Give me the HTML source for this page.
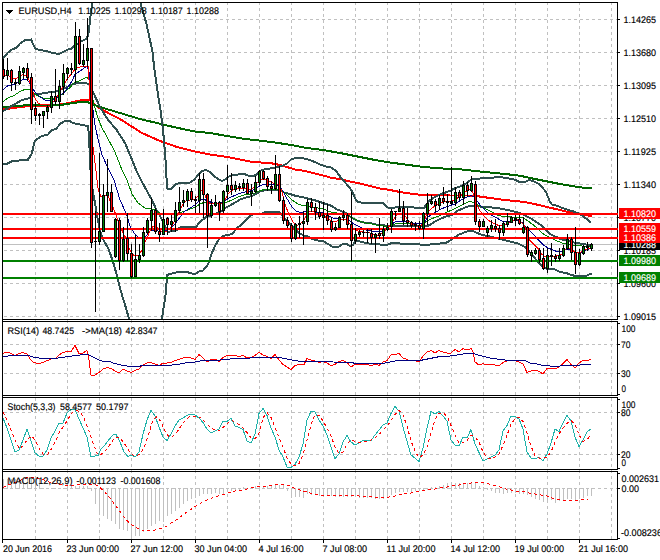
<!DOCTYPE html>
<html><head><meta charset="utf-8"><title>EURUSD,H4</title>
<style>html,body{margin:0;padding:0;background:#fff}body{width:660px;height:560px;overflow:hidden}svg{display:block}</style></head>
<body>
<svg width="660" height="560" viewBox="0 0 660 560" shape-rendering="crispEdges" font-family="'Liberation Sans', sans-serif" font-size="9.5" text-rendering="geometricPrecision">
<rect x="0" y="0" width="660" height="560" fill="#fff"/>
<g stroke="#c0c0c0" stroke-width="1" stroke-dasharray="3 3" fill="none">
<path d="M35.5 2V539"/>
<path d="M67.5 2V539"/>
<path d="M99.5 2V539"/>
<path d="M131.5 2V539"/>
<path d="M163.5 2V539"/>
<path d="M195.5 2V539"/>
<path d="M227.5 2V539"/>
<path d="M259.5 2V539"/>
<path d="M291.5 2V539"/>
<path d="M323.5 2V539"/>
<path d="M355.5 2V539"/>
<path d="M387.5 2V539"/>
<path d="M419.5 2V539"/>
<path d="M451.5 2V539"/>
<path d="M483.5 2V539"/>
<path d="M515.5 2V539"/>
<path d="M547.5 2V539"/>
<path d="M579.5 2V539"/>
<path d="M611.5 2V539"/>
<path d="M4 19.5H617"/>
<path d="M4 52.5H617"/>
<path d="M4 85.5H617"/>
<path d="M4 118.5H617"/>
<path d="M4 151.5H617"/>
<path d="M4 184.5H617"/>
<path d="M4 217.5H617"/>
<path d="M4 250.5H617"/>
<path d="M4 283.5H617"/>
<path d="M4 316.5H617"/>
<path d="M4 344.5H617"/>
<path d="M4 373.5H617"/>
<path d="M4 412.5H617"/>
<path d="M4 454.5H617"/>
<path d="M4 488.5H617"/>
</g>
<defs><clipPath id="cm"><rect x="3" y="3" width="614" height="316"/></clipPath></defs>
<g clip-path="url(#cm)">
<rect x="3" y="244" width="614" height="1" fill="#c0c0c0"/>
<polyline points="3.0,109.5 10.0,108.5 20.0,107.0 30.0,106.0 48.0,106.0 64.0,104.0 80.0,100.5 84.0,100.0 90.0,99.5 94.0,104.0 100.0,108.5 110.0,114.0 120.0,119.0 123.0,121.0 131.0,126.0 142.0,133.0 160.0,141.0 163.0,142.0 177.0,147.0 195.0,151.5 210.0,154.5 227.0,157.0 240.0,159.5 252.0,162.0 270.0,163.0 280.0,165.0 287.0,167.0 295.0,169.5 305.0,171.0 315.0,173.5 325.0,176.0 332.0,178.0 340.0,179.0 350.0,181.5 360.0,183.5 370.0,186.0 380.0,188.5 390.0,190.0 400.0,192.0 410.0,193.5 420.0,194.7 435.0,195.2 450.0,195.5 470.0,195.5 476.0,196.0 490.0,198.0 505.0,200.0 520.0,201.5 530.0,203.0 545.0,206.5 560.0,210.0 570.0,212.5 580.0,214.5 592.0,216.0" fill="none" stroke="#ff0000" stroke-width="2" />
<polyline points="3.0,107.0 30.0,105.0 60.0,105.0 67.0,104.0 80.0,102.0 86.0,101.5 92.0,104.0 100.0,107.0 120.0,113.0 140.0,119.0 163.0,124.5 178.0,128.0 195.0,131.5 210.0,133.0 227.0,136.0 245.0,139.0 259.0,140.5 275.0,142.5 291.0,145.0 307.0,148.0 323.0,150.0 340.0,153.0 345.0,154.0 360.0,157.0 375.0,160.0 390.0,162.5 405.0,164.5 420.0,166.5 435.0,168.0 450.0,169.0 460.0,169.3 475.0,171.0 490.0,172.5 505.0,174.0 520.0,175.7 530.0,178.0 545.0,181.0 560.0,184.0 575.0,186.5 585.0,188.0 592.0,188.5" fill="none" stroke="#006400" stroke-width="2" />
<polyline points="3.0,58.5 8.0,52.5 12.0,49.5 16.0,48.0 20.0,43.5 25.0,40.0 31.0,39.5 33.0,44.0 35.5,49.0 40.0,50.0 46.0,51.0 51.0,52.5 56.0,53.5 60.0,53.5 64.0,51.5 68.0,49.5 71.0,49.0 73.0,47.0 75.0,45.5 80.0,42.0 86.0,39.0 88.0,36.0 89.0,30.0 90.0,20.0 91.0,12.0 92.0,5.0 92.5,2.0" fill="none" stroke="#2f4f4f" stroke-width="2" />
<polyline points="140.0,2.0 140.5,3.0 143.0,12.0 146.0,22.0 150.0,40.0 152.5,52.0 154.0,66.0 156.0,80.0 158.0,95.0 160.5,110.0 162.5,126.0 164.0,140.0 165.5,160.0 166.5,178.0 167.5,189.0 171.0,189.0 176.0,184.0 180.0,183.0 189.0,183.0 194.0,180.0 198.0,175.0 202.0,171.0 206.0,170.0 210.0,172.0 214.0,176.0 218.0,179.0 222.0,181.0 226.0,179.0 228.0,177.0 232.0,175.5 238.0,174.5 244.0,174.0 248.0,175.5 254.0,176.0 257.0,174.0 260.0,171.0 264.0,169.5 270.0,168.5 278.0,167.0 283.0,165.5 287.0,163.5 291.0,159.5 296.0,158.0 301.0,157.5 306.0,159.0 311.0,160.5 316.0,162.5 321.0,165.0 326.0,166.5 331.0,167.5 335.0,170.0 338.0,173.5 341.0,178.0 346.0,183.5 350.0,188.0 353.0,193.0 355.0,198.5 358.0,202.0 364.0,203.0 383.0,203.0 385.0,205.0 388.0,207.5 395.0,207.5 399.0,206.5 408.0,206.5 414.0,207.5 424.0,208.0 426.0,205.0 430.0,200.0 435.0,197.0 441.0,194.0 447.0,192.0 452.0,190.0 455.0,188.0 459.0,187.0 463.0,185.0 467.0,183.0 470.0,180.5 472.0,178.5 480.0,178.5 487.0,178.0 494.0,177.5 500.0,177.0 506.0,178.0 512.0,179.0 516.0,180.0 519.0,182.0 525.0,182.0 529.0,180.0 533.0,181.0 538.0,183.5 542.0,187.0 546.0,192.0 548.0,197.0 550.0,202.0 552.0,204.5 556.0,205.5 560.0,207.0 565.0,209.0 570.0,210.5 575.0,212.0 580.0,214.0 584.0,217.0 588.0,220.0 591.0,223.0" fill="none" stroke="#2f4f4f" stroke-width="2" />
<polyline points="3.0,111.0 10.0,107.0 16.0,103.5 22.0,100.0 28.0,98.5 31.0,98.0 35.0,94.5 45.0,93.0 55.0,91.5 60.0,90.0 64.0,88.5 68.0,86.5 72.0,84.5 76.0,83.5 85.0,82.5 90.0,85.0 93.0,92.0 100.0,107.0 108.0,120.0 116.0,129.0 125.0,143.0 130.0,155.0 137.0,172.0 141.0,180.0 148.0,193.0 152.0,200.0 156.0,209.0 160.0,216.0 163.0,222.0 166.0,228.0 168.0,232.0 172.0,231.0 177.0,230.0 180.0,227.5 196.0,227.0 200.0,222.0 206.0,217.0 212.0,215.0 222.0,211.0 226.0,207.5 230.0,205.5 236.0,202.0 241.0,199.0 246.0,197.5 252.0,196.0 256.0,194.0 260.0,191.5 266.0,190.0 274.0,189.5 280.0,190.5 284.0,192.5 290.0,194.0 296.0,196.0 302.0,197.0 308.0,198.5 314.0,200.0 320.0,202.0 326.0,204.0 332.0,206.0 336.0,209.0 341.0,211.0 346.0,213.0 350.0,216.5 354.0,219.0 358.0,221.0 364.0,222.5 372.0,223.5 378.0,225.0 383.0,224.5 386.0,226.0 390.0,226.5 396.0,226.0 410.0,226.0 420.0,226.5 428.0,226.0 432.0,223.5 436.0,221.0 440.0,219.0 446.0,216.5 452.0,215.0 458.0,210.5 464.0,208.0 469.0,206.0 472.0,205.5 476.0,206.0 484.0,207.0 492.0,207.5 500.0,208.5 508.0,210.0 514.0,211.5 518.0,212.5 522.0,214.0 526.0,216.0 530.0,218.0 534.0,220.5 538.0,223.0 542.0,226.0 546.0,230.5 550.0,234.0 555.0,236.5 562.0,239.5 568.0,241.0 574.0,242.5 580.0,243.5 586.0,244.5 592.0,245.0" fill="none" stroke="#2f4f4f" stroke-width="2" />
<polyline points="3.0,164.0 7.0,164.0 10.0,162.0 13.0,161.0 19.0,160.5 21.0,159.5 28.0,159.5 30.0,156.5 32.0,153.0 33.0,148.0 34.5,142.0 37.0,139.0 42.0,136.0 48.0,134.5 52.0,130.0 56.0,129.0 60.0,124.0 64.0,121.5 69.0,120.5 73.0,123.0 80.0,124.5 88.0,126.0 89.0,135.0 90.0,160.0 91.0,180.0 97.0,215.0 100.0,231.0 104.0,241.0 108.0,248.0 110.0,253.0 114.0,265.0 117.0,276.0 120.0,288.0 122.0,295.0 126.0,308.0 129.0,319.0" fill="none" stroke="#2f4f4f" stroke-width="2" />
<polyline points="162.0,319.0 164.0,305.0 166.0,292.0 166.5,283.0 167.0,275.0 170.0,274.0 176.0,272.5 185.0,271.5 192.0,273.5 196.0,273.5 200.0,271.0 203.0,270.5 207.0,266.0 209.0,262.0 211.0,255.0 215.0,246.0 219.0,239.0 223.0,236.0 230.0,234.5 232.0,234.0 237.0,228.0 241.0,225.0 246.0,220.0 250.0,216.0 253.0,214.5 262.0,214.0 264.0,212.5 275.0,211.5 280.0,212.5 283.0,216.0 286.0,220.0 290.0,224.0 296.0,230.0 300.0,233.5 305.0,236.0 308.0,236.5 312.0,239.0 318.0,240.5 324.0,241.5 328.0,244.0 332.0,246.5 335.0,247.0 339.0,246.5 343.0,244.0 346.0,243.5 350.0,246.0 353.0,245.0 355.0,241.5 358.0,241.0 362.0,242.0 366.0,243.0 372.0,244.0 380.0,244.5 388.0,244.5 392.0,243.0 394.0,242.5 400.0,243.5 410.0,244.0 420.0,244.5 430.0,244.5 440.0,243.5 446.0,243.0 450.0,240.5 453.0,238.5 458.0,235.0 463.0,233.0 467.0,231.5 470.0,230.5 473.0,231.0 477.0,233.0 481.0,234.5 485.0,235.5 490.0,236.5 498.0,238.5 502.0,239.5 508.0,241.0 514.0,242.5 518.0,243.5 522.0,245.5 524.0,246.5 528.0,250.0 532.0,255.0 536.0,259.5 540.0,264.0 544.0,268.0 548.0,269.0 552.0,268.5 556.0,270.0 560.0,272.0 566.0,273.0 570.0,274.5 575.0,276.0 580.0,276.5 586.0,276.0 589.0,274.5 592.0,273.5" fill="none" stroke="#2f4f4f" stroke-width="2" />
<polyline points="3.0,101.5 8.0,98.0 14.0,95.5 20.0,91.5 26.0,89.0 30.0,90.0 34.0,93.5 38.0,96.0 44.0,98.5 50.0,99.0 56.0,98.0 62.0,94.5 66.0,91.0 70.0,87.5 74.0,83.0 80.0,80.5 87.0,77.0 89.0,80.0 94.0,105.0 98.0,118.0 102.0,128.0 106.0,135.0 115.0,152.0 122.0,170.0 127.0,180.0 132.0,194.0 138.0,203.0 145.0,208.0 152.0,209.0 157.0,211.0 160.0,213.5 170.0,215.0 175.0,214.0 180.0,212.5 185.0,211.0 190.0,209.0 196.0,207.0 200.0,204.0 205.0,202.0 212.0,203.0 220.0,203.0 226.0,202.5 232.0,200.0 238.0,197.0 244.0,195.0 252.0,194.0 256.0,192.5 260.0,190.5 265.0,189.5 272.0,189.0 278.0,189.5 282.0,191.0 286.0,194.0 290.0,198.0 294.0,201.5 298.0,204.0 302.0,205.5 306.0,206.0 312.0,207.0 318.0,208.0 324.0,209.0 328.0,211.0 333.0,212.5 340.0,213.5 350.0,216.0 354.0,218.5 360.0,221.5 366.0,223.0 372.0,224.0 378.0,225.5 384.0,226.0 390.0,226.0 395.0,224.0 400.0,223.0 410.0,223.0 420.0,224.0 426.0,222.0 430.0,219.5 436.0,217.0 440.0,215.5 446.0,212.5 452.0,210.0 458.0,207.0 464.0,204.0 468.0,202.0 471.0,201.5 475.0,203.0 478.0,205.0 483.0,207.5 488.0,210.0 492.0,212.0 498.0,215.5 504.0,216.5 512.0,217.0 520.0,217.0 524.0,218.5 528.0,221.0 532.0,224.0 536.0,227.0 540.0,231.0 544.0,234.5 548.0,236.5 556.0,240.5 562.0,243.0 568.0,244.0 575.0,245.5 582.0,246.0 592.0,246.0" fill="none" stroke="#008000" stroke-width="1" />
<polyline points="3.0,90.0 8.0,85.5 14.0,84.5 20.0,80.5 26.0,79.0 29.0,82.0 32.0,88.0 36.0,93.0 40.0,97.0 45.0,100.0 50.0,100.0 55.0,99.5 60.0,96.0 64.0,92.5 68.0,87.0 72.0,81.0 75.0,74.5 80.0,71.0 87.0,66.0 89.0,72.0 91.0,95.0 94.0,118.0 95.5,128.0 99.0,143.0 102.0,155.0 108.0,168.0 114.0,180.0 120.0,200.0 126.0,213.0 130.0,226.0 134.0,233.0 138.0,237.0 142.0,238.0 146.0,236.0 150.0,231.0 155.0,230.0 160.0,231.5 165.0,231.0 170.0,229.0 175.0,224.0 180.0,217.0 185.0,211.0 190.0,208.0 195.0,205.0 199.0,201.0 203.0,199.0 208.0,201.0 213.0,203.0 220.0,203.0 225.0,200.5 230.0,197.5 236.0,195.0 242.0,192.5 250.0,191.0 254.0,189.5 258.0,187.0 262.0,185.0 268.0,184.5 276.0,185.0 280.0,187.0 283.0,191.0 286.0,197.0 289.0,202.0 292.0,207.0 296.0,211.0 300.0,212.5 309.0,211.5 316.0,212.0 322.0,212.5 326.0,214.5 330.0,216.5 334.0,218.5 340.0,219.0 346.0,219.0 350.0,221.0 354.0,224.0 358.0,226.0 362.0,228.0 366.0,230.0 372.0,231.0 378.0,232.0 382.0,231.5 386.0,229.0 390.0,226.0 394.0,222.5 397.0,221.0 406.0,221.0 410.0,222.0 415.0,223.5 420.0,224.0 425.0,222.0 428.0,217.0 432.0,214.5 436.0,212.0 441.0,209.0 446.0,207.0 452.0,205.0 454.0,204.5 458.0,202.0 463.0,199.0 467.0,197.0 471.0,195.5 474.0,197.0 477.0,201.0 481.0,206.0 485.0,210.0 488.0,213.0 492.0,215.5 496.0,217.5 500.0,220.0 504.0,222.0 506.0,221.5 510.0,221.0 516.0,220.0 520.0,221.0 523.0,223.5 526.0,227.0 530.0,231.0 534.0,235.0 540.0,241.5 544.0,245.5 548.0,248.0 553.0,250.0 558.0,252.0 562.0,251.5 565.0,249.0 570.0,249.5 574.0,252.0 578.0,252.5 582.0,252.0 586.0,250.0 592.0,248.0" fill="none" stroke="#00008b" stroke-width="1" />
<polyline points="3.0,75.0 8.0,75.0 12.0,78.5 15.0,79.0 19.0,77.0 23.0,74.5 27.0,76.5 29.0,80.0 31.0,86.0 33.0,92.0 35.0,98.0 38.0,103.0 42.0,105.0 50.0,104.0 55.0,100.0 60.0,92.0 64.0,84.0 68.0,78.0 72.0,73.0 76.0,68.0 82.0,66.5 88.0,66.0 89.0,80.0 90.0,100.0 93.0,147.0 95.0,163.0 98.0,188.0 99.0,192.0 101.0,197.0 103.0,195.5 108.0,196.0 112.0,205.0 116.0,215.0 120.0,226.0 124.0,235.0 128.0,241.0 129.0,248.0 132.0,254.0 135.0,256.0 139.0,255.0 142.0,250.0 145.0,242.0 148.0,236.0 151.0,228.0 154.0,226.0 158.0,228.0 163.0,233.0 167.0,231.0 172.0,226.0 176.0,218.0 179.0,212.0 183.0,204.0 186.0,201.0 190.0,200.0 195.0,199.0 198.0,196.0 201.0,190.0 204.0,193.0 207.0,200.0 210.0,204.0 216.0,203.0 222.0,204.0 225.0,200.0 228.0,194.0 231.0,191.0 235.0,189.0 240.0,188.0 246.0,189.0 250.0,190.0 253.0,188.0 257.0,183.0 261.0,180.0 265.0,179.0 269.0,181.0 273.0,183.0 277.0,184.0 280.0,186.0 282.0,192.0 284.0,200.0 286.0,207.0 288.0,212.0 290.0,216.0 293.0,222.0 296.0,226.0 300.0,224.0 304.0,220.0 306.0,216.0 310.0,211.0 314.0,212.0 318.0,215.0 324.0,216.0 328.0,218.5 332.0,221.5 335.0,222.0 338.0,220.5 342.0,219.5 346.0,220.0 350.0,224.0 354.0,229.0 358.0,231.0 364.0,232.0 370.0,233.0 376.0,235.0 380.0,235.0 385.0,231.0 388.0,228.0 391.0,224.0 394.0,219.0 397.0,215.0 400.0,213.0 404.0,214.0 407.0,219.0 411.0,223.0 415.0,225.0 419.0,227.0 423.0,224.0 426.0,216.0 429.0,211.0 432.0,208.0 436.0,205.5 440.0,203.0 444.0,202.0 450.0,201.5 455.0,200.0 460.0,196.0 465.0,192.0 468.0,190.0 471.0,189.0 473.0,193.0 475.0,199.0 477.0,205.0 480.0,211.0 484.0,216.0 487.0,219.0 490.0,221.5 494.0,223.5 500.0,226.0 505.0,225.0 508.0,223.0 511.0,221.5 515.0,219.5 519.0,220.0 523.0,224.0 525.0,227.0 527.0,232.0 530.0,240.5 533.0,243.5 536.0,246.5 539.0,249.5 542.0,254.5 545.0,256.5 550.0,256.0 555.0,256.0 560.0,255.5 563.0,253.0 566.0,249.0 569.0,248.5 572.0,250.0 576.0,253.0 580.0,252.5 584.0,250.5 588.0,248.5 592.0,247.5" fill="none" stroke="#ff0000" stroke-width="1" />
</g>
<polyline points="3.0,353.5 6.0,352.0 10.0,353.0 15.0,355.5 19.0,353.5 23.0,352.5 27.0,354.0 30.0,359.0 33.0,362.0 37.0,363.5 41.0,363.0 45.0,361.5 49.0,360.0 52.0,358.5 55.0,359.0 58.0,356.0 62.0,353.0 66.0,351.5 71.0,351.5 75.0,345.5 79.0,353.5 83.0,353.0 87.0,350.5 89.0,360.0 91.0,375.0 95.0,375.0 99.0,372.5 103.0,369.0 107.0,367.5 111.0,368.5 115.0,371.0 119.0,373.0 123.0,369.0 127.0,371.0 131.0,372.5 135.0,370.5 139.0,369.0 143.0,365.0 147.0,363.0 151.0,362.5 155.0,364.0 159.0,365.5 163.0,363.0 167.0,363.0 171.0,362.5 175.0,360.5 179.0,359.5 183.0,358.0 187.0,357.0 191.0,358.0 195.0,359.5 199.0,354.5 203.0,358.0 207.0,362.0 211.0,359.5 216.0,359.5 219.0,361.5 223.0,357.5 227.0,355.5 231.0,356.0 235.0,355.5 239.0,356.5 243.0,355.5 247.0,358.0 251.0,357.5 255.0,355.5 259.0,352.5 263.0,355.0 267.0,356.5 271.0,358.5 275.0,354.5 279.0,360.0 283.0,364.5 287.0,367.0 291.0,369.5 295.0,365.5 299.0,364.5 304.0,364.5 307.0,358.5 311.0,360.0 315.0,361.0 319.0,362.5 323.0,361.5 327.0,363.0 331.0,365.5 335.0,364.5 339.0,361.5 343.0,360.5 347.0,362.5 351.0,367.0 355.0,364.5 359.0,364.0 367.0,364.0 371.0,366.0 375.0,364.0 379.0,365.5 383.0,362.0 387.0,360.5 391.0,355.0 395.0,354.5 399.0,353.5 403.0,358.0 407.0,359.5 411.0,361.0 415.0,360.5 419.0,362.0 423.0,356.0 427.0,352.0 431.0,350.5 435.0,353.0 439.0,350.5 443.0,352.0 447.0,353.0 451.0,353.0 455.0,349.5 459.0,352.0 463.0,348.5 467.0,350.0 471.0,348.5 473.0,352.0 475.0,362.0 479.0,365.0 483.0,363.5 487.0,365.0 491.0,364.5 495.0,365.0 499.0,366.0 503.0,362.5 507.0,361.0 511.0,360.5 515.0,360.5 519.0,362.0 523.0,364.0 527.0,372.5 531.0,371.0 535.0,370.0 539.0,371.5 543.0,374.0 547.0,368.5 551.0,368.0 555.0,369.0 559.0,367.0 563.0,363.5 567.0,359.5 571.0,364.5 575.0,368.0 579.0,363.0 583.0,360.5 587.0,361.0 591.0,359.0" fill="none" stroke="#ff0000" stroke-width="1" />
<polyline points="3.0,357.0 8.0,356.0 20.0,355.5 28.0,355.5 33.0,357.0 42.0,358.5 50.0,358.5 58.0,358.0 65.0,357.0 72.0,356.0 80.0,355.0 88.0,354.5 94.0,357.5 99.0,360.0 103.0,361.5 110.0,361.5 113.0,363.0 121.0,365.0 130.0,366.5 138.0,366.5 143.0,365.5 160.0,365.5 172.0,365.0 180.0,364.0 187.0,362.5 195.0,362.0 203.0,360.5 210.0,360.0 220.0,360.0 230.0,359.0 240.0,358.0 250.0,358.0 258.0,357.0 270.0,357.0 280.0,357.5 287.0,359.0 292.0,360.0 298.0,361.0 310.0,361.0 320.0,361.5 328.0,361.5 333.0,362.0 352.0,362.5 355.0,363.5 375.0,363.5 385.0,363.0 390.0,362.0 398.0,360.5 420.0,360.5 430.0,358.5 440.0,356.5 450.0,356.0 460.0,354.5 467.0,353.5 473.0,353.5 480.0,355.5 490.0,358.0 500.0,359.5 510.0,360.5 525.0,360.5 530.0,363.0 537.0,364.0 543.0,365.5 550.0,366.0 560.0,366.0 568.0,365.0 580.0,365.0 586.0,364.5 591.0,364.5" fill="none" stroke="#000080" stroke-width="1" />
<polyline points="3.0,418.0 7.0,428.0 11.0,440.0 15.0,452.0 19.0,450.0 23.0,440.0 27.0,429.0 31.0,441.0 35.0,453.0 39.0,456.0 43.0,456.0 47.0,450.0 51.0,438.0 55.0,431.0 59.0,423.5 63.0,423.0 67.0,413.0 71.0,409.5 75.0,409.5 79.0,419.0 83.0,428.0 87.0,437.0 91.0,457.0 95.0,456.0 98.0,455.5 101.0,449.0 105.0,445.0 109.0,439.5 113.0,435.0 116.0,434.5 120.0,442.0 124.0,452.0 128.0,456.5 131.0,455.0 135.0,457.0 139.0,452.0 143.0,434.0 147.0,420.0 151.0,410.5 155.0,416.0 159.0,427.0 163.0,437.0 167.0,440.5 171.0,434.0 175.0,426.0 179.0,420.0 183.0,418.0 187.0,415.5 191.0,414.0 195.0,415.0 199.0,418.0 203.0,422.5 207.0,429.0 211.0,433.0 215.0,431.0 219.0,429.0 223.0,421.5 227.0,421.5 231.0,418.5 235.0,426.0 239.0,427.5 243.0,429.5 247.0,441.0 251.0,443.0 255.0,434.0 259.0,413.5 263.0,408.5 267.0,415.5 271.0,428.0 275.0,437.0 279.0,450.0 283.0,457.0 287.0,467.0 291.0,467.5 295.0,464.5 299.0,457.0 303.0,444.0 307.0,420.0 311.0,411.5 315.0,412.0 319.0,420.0 323.0,426.0 327.0,435.0 331.0,447.0 335.0,458.5 339.0,454.0 343.0,442.0 347.0,435.5 351.0,442.0 355.0,445.0 359.0,443.0 363.0,440.5 367.0,440.0 371.0,440.5 375.0,435.0 379.0,430.0 383.0,425.0 387.0,423.0 391.0,413.5 395.0,406.5 399.0,411.0 403.0,427.0 407.0,441.0 411.0,455.0 415.0,458.0 419.0,461.5 423.0,448.0 427.0,428.0 431.0,411.5 435.0,414.0 439.0,411.5 443.0,416.0 447.0,421.0 451.0,440.0 455.0,445.0 459.0,446.0 463.0,437.0 467.0,438.0 471.0,429.5 475.0,444.0 479.0,452.5 483.0,461.0 487.0,459.0 491.0,457.0 495.0,455.0 499.0,450.0 503.0,431.0 507.0,425.5 511.0,416.0 515.0,416.0 519.0,419.0 523.0,429.0 527.0,452.0 531.0,458.0 535.0,458.5 539.0,457.5 543.0,460.5 547.0,454.0 551.0,443.0 555.0,429.0 559.0,431.5 563.0,423.0 567.0,415.5 571.0,421.0 575.0,437.0 579.0,446.5 583.0,440.0 587.0,432.0 591.0,429.0" fill="none" stroke="#20b2aa" stroke-width="1" />
<polyline points="3.0,412.0 7.0,420.0 11.0,430.0 15.0,440.0 18.0,446.0 20.0,449.0 24.0,444.0 28.0,439.0 32.0,436.0 36.0,442.0 40.0,450.0 44.0,455.0 48.0,454.0 52.0,448.0 56.0,440.0 60.0,431.0 64.0,426.0 68.0,419.0 72.0,413.0 76.0,410.0 80.0,412.0 84.0,418.5 88.0,428.0 92.0,440.0 96.0,451.0 99.0,456.0 103.0,453.0 107.0,449.0 109.0,446.0 113.0,440.0 117.0,437.0 121.0,439.0 125.0,444.5 129.0,451.0 133.0,455.0 137.0,456.0 141.0,453.0 145.0,445.0 149.0,433.0 153.0,420.0 157.0,416.5 161.0,422.0 165.0,431.0 169.0,437.0 173.0,436.0 177.0,432.0 181.0,426.0 185.0,421.0 189.0,417.0 193.0,416.0 197.0,416.0 201.0,418.0 205.0,422.0 209.0,426.0 213.0,429.0 215.0,430.0 219.0,431.0 223.0,427.5 227.0,424.0 231.0,420.5 235.0,421.5 239.0,424.5 243.0,428.0 247.0,432.5 251.0,438.0 255.0,439.0 259.0,433.0 263.0,418.0 267.0,412.5 271.0,417.5 275.0,427.0 279.0,438.0 283.0,447.0 287.0,458.0 291.0,464.0 295.0,466.0 299.0,463.5 303.0,455.0 307.0,440.0 311.0,425.0 315.0,414.5 319.0,415.5 323.0,421.0 327.0,428.0 331.0,436.0 335.0,447.0 339.0,453.5 343.0,452.0 347.0,444.0 351.0,440.0 355.0,441.5 359.0,443.0 363.0,442.5 367.0,441.0 371.0,440.0 375.0,438.0 379.0,434.5 383.0,430.0 387.0,426.0 391.0,421.0 395.0,414.5 399.0,410.5 403.0,415.0 407.0,426.0 411.0,441.0 415.0,451.0 419.0,458.0 423.0,455.0 427.0,447.0 431.0,433.0 435.0,420.0 439.0,413.0 443.0,413.0 447.0,416.0 451.0,425.5 455.0,435.0 459.0,443.0 463.0,442.5 467.0,440.5 471.0,435.0 475.0,437.0 479.0,442.0 483.0,452.0 487.0,457.5 491.0,459.0 495.0,457.0 499.0,454.0 503.0,445.5 507.0,435.5 511.0,424.0 515.0,419.0 519.0,417.0 523.0,421.5 527.0,433.0 531.0,446.0 535.0,456.0 539.0,458.0 543.0,458.5 547.0,457.0 551.0,452.0 555.0,442.0 559.0,434.0 563.0,428.0 567.0,423.5 571.0,420.5 575.0,424.5 579.0,435.0 583.0,441.5 587.0,440.0 591.0,434.0" fill="none" stroke="#ff0000" stroke-width="1" stroke-dasharray="3 3" />
<rect x="3" y="479" width="1" height="10" fill="#c0c0c0"/>
<rect x="7" y="479" width="1" height="10" fill="#c0c0c0"/>
<rect x="11" y="479" width="1" height="10" fill="#c0c0c0"/>
<rect x="15" y="479" width="1" height="10" fill="#c0c0c0"/>
<rect x="19" y="479" width="1" height="10" fill="#c0c0c0"/>
<rect x="23" y="479" width="1" height="10" fill="#c0c0c0"/>
<rect x="27" y="479" width="1" height="10" fill="#c0c0c0"/>
<rect x="31" y="479" width="1" height="10" fill="#c0c0c0"/>
<rect x="35" y="479" width="1" height="10" fill="#c0c0c0"/>
<rect x="39" y="479" width="1" height="10" fill="#c0c0c0"/>
<rect x="43" y="488" width="1" height="1" fill="#c0c0c0"/>
<rect x="47" y="488" width="1" height="1" fill="#c0c0c0"/>
<rect x="51" y="488" width="1" height="1" fill="#c0c0c0"/>
<rect x="55" y="488" width="1" height="1" fill="#c0c0c0"/>
<rect x="59" y="488" width="1" height="1" fill="#c0c0c0"/>
<rect x="63" y="488" width="1" height="1" fill="#c0c0c0"/>
<rect x="67" y="485.5" width="1" height="3.5" fill="#c0c0c0"/>
<rect x="71" y="485.5" width="1" height="3.5" fill="#c0c0c0"/>
<rect x="75" y="485.5" width="1" height="3.5" fill="#c0c0c0"/>
<rect x="79" y="485.5" width="1" height="3.5" fill="#c0c0c0"/>
<rect x="83" y="485.5" width="1" height="3.5" fill="#c0c0c0"/>
<rect x="87" y="485.5" width="1" height="3.5" fill="#c0c0c0"/>
<rect x="91" y="488" width="1" height="3" fill="#c0c0c0"/>
<rect x="95" y="488" width="1" height="16" fill="#c0c0c0"/>
<rect x="99" y="488" width="1" height="27" fill="#c0c0c0"/>
<rect x="103" y="488" width="1" height="28" fill="#c0c0c0"/>
<rect x="107" y="488" width="1" height="30.5" fill="#c0c0c0"/>
<rect x="111" y="488" width="1" height="33" fill="#c0c0c0"/>
<rect x="115" y="488" width="1" height="35.5" fill="#c0c0c0"/>
<rect x="119" y="488" width="1" height="40.5" fill="#c0c0c0"/>
<rect x="123" y="488" width="1" height="42" fill="#c0c0c0"/>
<rect x="127" y="488" width="1" height="43" fill="#c0c0c0"/>
<rect x="131" y="488" width="1" height="48" fill="#c0c0c0"/>
<rect x="135" y="488" width="1" height="48" fill="#c0c0c0"/>
<rect x="139" y="488" width="1" height="47.5" fill="#c0c0c0"/>
<rect x="143" y="488" width="1" height="44" fill="#c0c0c0"/>
<rect x="147" y="488" width="1" height="41" fill="#c0c0c0"/>
<rect x="151" y="488" width="1" height="38" fill="#c0c0c0"/>
<rect x="155" y="488" width="1" height="36" fill="#c0c0c0"/>
<rect x="159" y="488" width="1" height="33" fill="#c0c0c0"/>
<rect x="163" y="488" width="1" height="34" fill="#c0c0c0"/>
<rect x="167" y="488" width="1" height="27.5" fill="#c0c0c0"/>
<rect x="171" y="488" width="1" height="25.5" fill="#c0c0c0"/>
<rect x="175" y="488" width="1" height="23" fill="#c0c0c0"/>
<rect x="179" y="488" width="1" height="19.5" fill="#c0c0c0"/>
<rect x="183" y="488" width="1" height="16" fill="#c0c0c0"/>
<rect x="187" y="488" width="1" height="12.5" fill="#c0c0c0"/>
<rect x="191" y="488" width="1" height="10.5" fill="#c0c0c0"/>
<rect x="195" y="488" width="1" height="10" fill="#c0c0c0"/>
<rect x="199" y="488" width="1" height="7.5" fill="#c0c0c0"/>
<rect x="203" y="488" width="1" height="5.5" fill="#c0c0c0"/>
<rect x="207" y="488" width="1" height="6" fill="#c0c0c0"/>
<rect x="211" y="488" width="1" height="6" fill="#c0c0c0"/>
<rect x="215" y="488" width="1" height="5" fill="#c0c0c0"/>
<rect x="219" y="488" width="1" height="5.5" fill="#c0c0c0"/>
<rect x="223" y="488" width="1" height="5.5" fill="#c0c0c0"/>
<rect x="227" y="488" width="1" height="4" fill="#c0c0c0"/>
<rect x="231" y="488" width="1" height="2.5" fill="#c0c0c0"/>
<rect x="235" y="488" width="1" height="2" fill="#c0c0c0"/>
<rect x="239" y="488" width="1" height="1.5" fill="#c0c0c0"/>
<rect x="243" y="487" width="1" height="2" fill="#c0c0c0"/>
<rect x="247" y="487.5" width="1" height="1.5" fill="#c0c0c0"/>
<rect x="251" y="487" width="1" height="2" fill="#c0c0c0"/>
<rect x="255" y="485.5" width="1" height="3.5" fill="#c0c0c0"/>
<rect x="259" y="485.5" width="1" height="3.5" fill="#c0c0c0"/>
<rect x="263" y="485.5" width="1" height="3.5" fill="#c0c0c0"/>
<rect x="267" y="485.5" width="1" height="3.5" fill="#c0c0c0"/>
<rect x="271" y="485" width="1" height="4" fill="#c0c0c0"/>
<rect x="275" y="485" width="1" height="4" fill="#c0c0c0"/>
<rect x="279" y="485" width="1" height="4" fill="#c0c0c0"/>
<rect x="283" y="485" width="1" height="4" fill="#c0c0c0"/>
<rect x="287" y="488" width="1" height="3" fill="#c0c0c0"/>
<rect x="291" y="488" width="1" height="9.5" fill="#c0c0c0"/>
<rect x="295" y="488" width="1" height="9" fill="#c0c0c0"/>
<rect x="299" y="488" width="1" height="9" fill="#c0c0c0"/>
<rect x="303" y="488" width="1" height="9.5" fill="#c0c0c0"/>
<rect x="307" y="488" width="1" height="6" fill="#c0c0c0"/>
<rect x="311" y="488" width="1" height="7" fill="#c0c0c0"/>
<rect x="315" y="488" width="1" height="7" fill="#c0c0c0"/>
<rect x="319" y="488" width="1" height="8" fill="#c0c0c0"/>
<rect x="323" y="488" width="1" height="8" fill="#c0c0c0"/>
<rect x="327" y="488" width="1" height="8" fill="#c0c0c0"/>
<rect x="331" y="488" width="1" height="8" fill="#c0c0c0"/>
<rect x="335" y="488" width="1" height="8.5" fill="#c0c0c0"/>
<rect x="339" y="488" width="1" height="8.5" fill="#c0c0c0"/>
<rect x="343" y="488" width="1" height="9" fill="#c0c0c0"/>
<rect x="347" y="488" width="1" height="9" fill="#c0c0c0"/>
<rect x="351" y="488" width="1" height="9" fill="#c0c0c0"/>
<rect x="355" y="488" width="1" height="9" fill="#c0c0c0"/>
<rect x="359" y="488" width="1" height="9.5" fill="#c0c0c0"/>
<rect x="363" y="488" width="1" height="9.5" fill="#c0c0c0"/>
<rect x="367" y="488" width="1" height="9.5" fill="#c0c0c0"/>
<rect x="371" y="488" width="1" height="10" fill="#c0c0c0"/>
<rect x="375" y="488" width="1" height="10.5" fill="#c0c0c0"/>
<rect x="379" y="488" width="1" height="10.5" fill="#c0c0c0"/>
<rect x="383" y="488" width="1" height="10.5" fill="#c0c0c0"/>
<rect x="387" y="488" width="1" height="8" fill="#c0c0c0"/>
<rect x="391" y="488" width="1" height="6.5" fill="#c0c0c0"/>
<rect x="395" y="488" width="1" height="4.5" fill="#c0c0c0"/>
<rect x="399" y="488" width="1" height="4" fill="#c0c0c0"/>
<rect x="403" y="488" width="1" height="4" fill="#c0c0c0"/>
<rect x="407" y="488" width="1" height="4" fill="#c0c0c0"/>
<rect x="411" y="488" width="1" height="3.5" fill="#c0c0c0"/>
<rect x="415" y="488" width="1" height="3" fill="#c0c0c0"/>
<rect x="419" y="488" width="1" height="2" fill="#c0c0c0"/>
<rect x="423" y="488" width="1" height="1.5" fill="#c0c0c0"/>
<rect x="427" y="488" width="1" height="1.5" fill="#c0c0c0"/>
<rect x="431" y="487" width="1" height="2" fill="#c0c0c0"/>
<rect x="435" y="486.5" width="1" height="2.5" fill="#c0c0c0"/>
<rect x="439" y="486" width="1" height="3" fill="#c0c0c0"/>
<rect x="443" y="485" width="1" height="4" fill="#c0c0c0"/>
<rect x="447" y="483" width="1" height="6" fill="#c0c0c0"/>
<rect x="451" y="483" width="1" height="6" fill="#c0c0c0"/>
<rect x="455" y="483" width="1" height="6" fill="#c0c0c0"/>
<rect x="459" y="482.5" width="1" height="6.5" fill="#c0c0c0"/>
<rect x="463" y="482.5" width="1" height="6.5" fill="#c0c0c0"/>
<rect x="467" y="482.5" width="1" height="6.5" fill="#c0c0c0"/>
<rect x="471" y="482.5" width="1" height="6.5" fill="#c0c0c0"/>
<rect x="475" y="483" width="1" height="6" fill="#c0c0c0"/>
<rect x="479" y="485.5" width="1" height="3.5" fill="#c0c0c0"/>
<rect x="483" y="487" width="1" height="2" fill="#c0c0c0"/>
<rect x="487" y="488" width="1" height="1.5" fill="#c0c0c0"/>
<rect x="491" y="488" width="1" height="3" fill="#c0c0c0"/>
<rect x="495" y="488" width="1" height="4.5" fill="#c0c0c0"/>
<rect x="499" y="488" width="1" height="4.5" fill="#c0c0c0"/>
<rect x="503" y="488" width="1" height="5.5" fill="#c0c0c0"/>
<rect x="507" y="488" width="1" height="4.5" fill="#c0c0c0"/>
<rect x="511" y="488" width="1" height="4.5" fill="#c0c0c0"/>
<rect x="515" y="488" width="1" height="5" fill="#c0c0c0"/>
<rect x="519" y="488" width="1" height="5.5" fill="#c0c0c0"/>
<rect x="523" y="488" width="1" height="5.5" fill="#c0c0c0"/>
<rect x="527" y="488" width="1" height="7" fill="#c0c0c0"/>
<rect x="531" y="488" width="1" height="9" fill="#c0c0c0"/>
<rect x="535" y="488" width="1" height="10.5" fill="#c0c0c0"/>
<rect x="539" y="488" width="1" height="11.5" fill="#c0c0c0"/>
<rect x="543" y="488" width="1" height="14" fill="#c0c0c0"/>
<rect x="547" y="488" width="1" height="14.5" fill="#c0c0c0"/>
<rect x="551" y="488" width="1" height="11.5" fill="#c0c0c0"/>
<rect x="555" y="488" width="1" height="14.5" fill="#c0c0c0"/>
<rect x="559" y="488" width="1" height="13" fill="#c0c0c0"/>
<rect x="563" y="488" width="1" height="12" fill="#c0c0c0"/>
<rect x="567" y="488" width="1" height="11" fill="#c0c0c0"/>
<rect x="571" y="488" width="1" height="10.5" fill="#c0c0c0"/>
<rect x="575" y="488" width="1" height="12" fill="#c0c0c0"/>
<rect x="579" y="488" width="1" height="11" fill="#c0c0c0"/>
<rect x="583" y="488" width="1" height="10" fill="#c0c0c0"/>
<rect x="587" y="488" width="1" height="8" fill="#c0c0c0"/>
<rect x="591" y="488" width="1" height="7.5" fill="#c0c0c0"/>
<polyline points="3.0,488.0 5.5,486.0 10.0,484.3 16.0,482.5 22.0,479.3 29.0,477.0 34.0,477.3 40.0,478.5 46.0,481.0 51.0,482.5 59.0,484.3 64.5,485.5 71.0,485.8 77.0,484.8 85.0,484.0 92.0,484.0 95.5,484.5 99.0,487.0 103.0,490.0 107.0,494.5 111.0,499.0 115.0,505.0 119.0,510.0 123.0,516.0 127.0,520.5 131.0,524.5 135.0,527.0 139.0,529.0 143.0,530.5 147.0,531.0 151.0,530.5 155.0,530.0 159.0,529.0 163.0,527.5 167.0,526.0 171.0,523.0 175.0,520.5 179.0,518.0 183.0,515.0 187.0,512.0 191.0,509.5 195.0,506.5 199.0,504.0 203.0,502.0 207.0,500.0 211.0,498.5 215.0,497.0 219.0,495.5 223.0,494.5 227.0,493.5 231.0,492.0 235.0,491.0 239.0,490.5 243.0,490.0 247.0,489.0 251.0,488.0 255.0,487.5 259.0,486.5 263.0,486.5 267.0,486.0 271.0,485.5 275.0,484.5 283.0,484.5 287.0,485.0 291.0,486.5 295.0,488.5 299.0,489.5 303.0,491.0 307.0,492.0 311.0,493.5 315.0,494.5 319.0,495.0 323.0,495.5 355.0,495.5 359.0,496.0 367.0,496.5 375.0,497.0 383.0,497.5 387.0,497.5 391.0,496.5 395.0,496.0 399.0,495.0 403.0,494.0 407.0,493.5 411.0,493.0 415.0,492.0 419.0,491.0 423.0,490.5 427.0,490.0 431.0,489.5 435.0,489.0 439.0,488.0 443.0,487.5 447.0,487.0 451.0,486.0 455.0,485.5 459.0,485.0 463.0,483.5 467.0,483.0 471.0,483.0 475.0,482.5 483.0,482.5 487.0,483.5 491.0,484.5 495.0,485.5 499.0,486.5 503.0,488.0 507.0,489.5 511.0,490.0 515.0,491.0 519.0,491.5 523.0,491.5 527.0,492.5 531.0,493.5 535.0,494.0 539.0,494.5 543.0,495.5 547.0,496.0 551.0,497.5 555.0,499.5 559.0,499.5 563.0,500.5 579.0,500.5 583.0,499.5 588.0,499.5" fill="none" stroke="#ff0000" stroke-width="1" stroke-dasharray="3 3" />
<rect x="2" y="2" width="1" height="538" fill="#000"/>
<rect x="2" y="2" width="616" height="1" fill="#000"/>
<rect x="617" y="2" width="1" height="318" fill="#000"/>
<rect x="2" y="319" width="616" height="1" fill="#000"/>
<rect x="2" y="321" width="616" height="1" fill="#000"/>
<rect x="617" y="321" width="1" height="75" fill="#000"/>
<rect x="2" y="395" width="616" height="1" fill="#000"/>
<rect x="2" y="397" width="616" height="1" fill="#000"/>
<rect x="617" y="397" width="1" height="73" fill="#000"/>
<rect x="2" y="469" width="616" height="1" fill="#000"/>
<rect x="2" y="471" width="616" height="1" fill="#000"/>
<rect x="617" y="471" width="1" height="69" fill="#000"/>
<rect x="2" y="539" width="616" height="1" fill="#000"/>
<rect x="3" y="213" width="615" height="2" fill="#ff0000"/>
<rect x="3" y="228" width="615" height="2" fill="#ff0000"/>
<rect x="3" y="237" width="615" height="2" fill="#ff0000"/>
<rect x="3" y="260" width="615" height="2" fill="#008000"/>
<rect x="3" y="277" width="615" height="2" fill="#008000"/>
<rect x="3" y="59" width="1" height="20" fill="#000"/>
<rect x="2" y="69" width="3" height="8" fill="#000"/>
<rect x="3" y="70" width="1" height="6" fill="#ff0000"/>
<rect x="7" y="58" width="1" height="22" fill="#000"/>
<rect x="6" y="70" width="3" height="6" fill="#000"/>
<rect x="7" y="71" width="1" height="4" fill="#008000"/>
<rect x="11" y="69" width="1" height="22" fill="#000"/>
<rect x="10" y="70" width="3" height="13" fill="#000"/>
<rect x="11" y="71" width="1" height="11" fill="#ff0000"/>
<rect x="15" y="79" width="1" height="11" fill="#000"/>
<rect x="14" y="82" width="3" height="2" fill="#000"/>
<rect x="19" y="66" width="1" height="19" fill="#000"/>
<rect x="18" y="71" width="3" height="13" fill="#000"/>
<rect x="19" y="72" width="1" height="11" fill="#008000"/>
<rect x="23" y="67" width="1" height="12" fill="#000"/>
<rect x="22" y="68" width="3" height="5" fill="#000"/>
<rect x="23" y="69" width="1" height="3" fill="#008000"/>
<rect x="27" y="63" width="1" height="18" fill="#000"/>
<rect x="26" y="68" width="3" height="10" fill="#000"/>
<rect x="27" y="69" width="1" height="8" fill="#ff0000"/>
<rect x="31" y="73" width="1" height="51" fill="#000"/>
<rect x="30" y="77" width="3" height="33" fill="#000"/>
<rect x="31" y="78" width="1" height="31" fill="#ff0000"/>
<rect x="35" y="102" width="1" height="19" fill="#000"/>
<rect x="34" y="108" width="3" height="8" fill="#000"/>
<rect x="35" y="109" width="1" height="6" fill="#ff0000"/>
<rect x="39" y="113" width="1" height="12" fill="#000"/>
<rect x="38" y="114" width="3" height="2" fill="#000"/>
<rect x="43" y="111" width="1" height="17" fill="#000"/>
<rect x="42" y="111" width="3" height="5" fill="#000"/>
<rect x="43" y="112" width="1" height="3" fill="#008000"/>
<rect x="47" y="105" width="1" height="14" fill="#000"/>
<rect x="46" y="107" width="3" height="5" fill="#000"/>
<rect x="47" y="108" width="1" height="3" fill="#008000"/>
<rect x="51" y="91" width="1" height="22" fill="#000"/>
<rect x="50" y="96" width="3" height="12" fill="#000"/>
<rect x="51" y="97" width="1" height="10" fill="#008000"/>
<rect x="55" y="69" width="1" height="36" fill="#000"/>
<rect x="54" y="96" width="3" height="6" fill="#000"/>
<rect x="55" y="97" width="1" height="4" fill="#ff0000"/>
<rect x="59" y="80" width="1" height="29" fill="#000"/>
<rect x="58" y="86" width="3" height="16" fill="#000"/>
<rect x="59" y="87" width="1" height="14" fill="#008000"/>
<rect x="63" y="64" width="1" height="31" fill="#000"/>
<rect x="62" y="73" width="3" height="14" fill="#000"/>
<rect x="63" y="74" width="1" height="12" fill="#008000"/>
<rect x="67" y="67" width="1" height="13" fill="#000"/>
<rect x="66" y="68" width="3" height="6" fill="#000"/>
<rect x="67" y="69" width="1" height="4" fill="#008000"/>
<rect x="71" y="63" width="1" height="12" fill="#000"/>
<rect x="70" y="68" width="3" height="2" fill="#000"/>
<rect x="75" y="22" width="1" height="61" fill="#000"/>
<rect x="74" y="36" width="3" height="34" fill="#000"/>
<rect x="75" y="37" width="1" height="32" fill="#008000"/>
<rect x="79" y="29" width="1" height="36" fill="#000"/>
<rect x="78" y="36" width="3" height="28" fill="#000"/>
<rect x="79" y="37" width="1" height="26" fill="#ff0000"/>
<rect x="83" y="44" width="1" height="23" fill="#000"/>
<rect x="82" y="60" width="3" height="5" fill="#000"/>
<rect x="83" y="61" width="1" height="3" fill="#008000"/>
<rect x="87" y="18" width="1" height="49" fill="#000"/>
<rect x="86" y="48" width="3" height="13" fill="#000"/>
<rect x="87" y="49" width="1" height="11" fill="#008000"/>
<rect x="91" y="48" width="1" height="200" fill="#000"/>
<rect x="90" y="48" width="3" height="195" fill="#000"/>
<rect x="91" y="49" width="1" height="193" fill="#ff0000"/>
<rect x="95" y="211" width="1" height="101" fill="#000"/>
<rect x="94" y="241" width="3" height="1" fill="#000"/>
<rect x="99" y="153" width="1" height="92" fill="#000"/>
<rect x="98" y="231" width="3" height="11" fill="#000"/>
<rect x="99" y="232" width="1" height="9" fill="#008000"/>
<rect x="103" y="184" width="1" height="48" fill="#000"/>
<rect x="102" y="195" width="3" height="37" fill="#000"/>
<rect x="103" y="196" width="1" height="35" fill="#008000"/>
<rect x="107" y="159" width="1" height="53" fill="#000"/>
<rect x="106" y="192" width="3" height="4" fill="#000"/>
<rect x="107" y="193" width="1" height="2" fill="#008000"/>
<rect x="111" y="184" width="1" height="28" fill="#000"/>
<rect x="110" y="192" width="3" height="20" fill="#000"/>
<rect x="111" y="193" width="1" height="18" fill="#ff0000"/>
<rect x="115" y="218" width="1" height="40" fill="#000"/>
<rect x="114" y="219" width="3" height="38" fill="#000"/>
<rect x="115" y="220" width="1" height="36" fill="#008000"/>
<rect x="119" y="218" width="1" height="52" fill="#000"/>
<rect x="118" y="220" width="3" height="41" fill="#000"/>
<rect x="119" y="221" width="1" height="39" fill="#ff0000"/>
<rect x="123" y="227" width="1" height="35" fill="#000"/>
<rect x="122" y="239" width="3" height="22" fill="#000"/>
<rect x="123" y="240" width="1" height="20" fill="#008000"/>
<rect x="127" y="213" width="1" height="48" fill="#000"/>
<rect x="126" y="238" width="3" height="16" fill="#000"/>
<rect x="127" y="239" width="1" height="14" fill="#ff0000"/>
<rect x="131" y="244" width="1" height="34" fill="#000"/>
<rect x="130" y="253" width="3" height="24" fill="#000"/>
<rect x="131" y="254" width="1" height="22" fill="#ff0000"/>
<rect x="135" y="235" width="1" height="42" fill="#000"/>
<rect x="134" y="259" width="3" height="18" fill="#000"/>
<rect x="135" y="260" width="1" height="16" fill="#008000"/>
<rect x="139" y="244" width="1" height="19" fill="#000"/>
<rect x="138" y="255" width="3" height="5" fill="#000"/>
<rect x="139" y="256" width="1" height="3" fill="#008000"/>
<rect x="143" y="227" width="1" height="30" fill="#000"/>
<rect x="142" y="232" width="3" height="24" fill="#000"/>
<rect x="143" y="233" width="1" height="22" fill="#008000"/>
<rect x="147" y="218" width="1" height="16" fill="#000"/>
<rect x="146" y="220" width="3" height="13" fill="#000"/>
<rect x="147" y="221" width="1" height="11" fill="#008000"/>
<rect x="151" y="198" width="1" height="33" fill="#000"/>
<rect x="150" y="210" width="3" height="11" fill="#000"/>
<rect x="151" y="211" width="1" height="9" fill="#008000"/>
<rect x="155" y="208" width="1" height="26" fill="#000"/>
<rect x="154" y="210" width="3" height="22" fill="#000"/>
<rect x="155" y="211" width="1" height="20" fill="#ff0000"/>
<rect x="159" y="223" width="1" height="19" fill="#000"/>
<rect x="158" y="231" width="3" height="4" fill="#000"/>
<rect x="159" y="232" width="1" height="2" fill="#ff0000"/>
<rect x="163" y="209" width="1" height="26" fill="#000"/>
<rect x="162" y="219" width="3" height="16" fill="#000"/>
<rect x="163" y="220" width="1" height="14" fill="#008000"/>
<rect x="167" y="217" width="1" height="18" fill="#000"/>
<rect x="166" y="218" width="3" height="7" fill="#000"/>
<rect x="167" y="219" width="1" height="5" fill="#ff0000"/>
<rect x="171" y="215" width="1" height="17" fill="#000"/>
<rect x="170" y="221" width="3" height="4" fill="#000"/>
<rect x="171" y="222" width="1" height="2" fill="#008000"/>
<rect x="175" y="202" width="1" height="30" fill="#000"/>
<rect x="174" y="210" width="3" height="12" fill="#000"/>
<rect x="175" y="211" width="1" height="10" fill="#008000"/>
<rect x="179" y="187" width="1" height="26" fill="#000"/>
<rect x="178" y="202" width="3" height="9" fill="#000"/>
<rect x="179" y="203" width="1" height="7" fill="#008000"/>
<rect x="183" y="190" width="1" height="17" fill="#000"/>
<rect x="182" y="200" width="3" height="3" fill="#000"/>
<rect x="183" y="201" width="1" height="1" fill="#008000"/>
<rect x="187" y="189" width="1" height="18" fill="#000"/>
<rect x="186" y="191" width="3" height="10" fill="#000"/>
<rect x="187" y="192" width="1" height="8" fill="#008000"/>
<rect x="191" y="188" width="1" height="14" fill="#000"/>
<rect x="190" y="191" width="3" height="9" fill="#000"/>
<rect x="191" y="192" width="1" height="7" fill="#ff0000"/>
<rect x="195" y="196" width="1" height="17" fill="#000"/>
<rect x="194" y="199" width="3" height="2" fill="#000"/>
<rect x="199" y="173" width="1" height="40" fill="#000"/>
<rect x="198" y="179" width="3" height="22" fill="#000"/>
<rect x="199" y="180" width="1" height="20" fill="#008000"/>
<rect x="203" y="173" width="1" height="45" fill="#000"/>
<rect x="202" y="179" width="3" height="16" fill="#000"/>
<rect x="203" y="180" width="1" height="14" fill="#ff0000"/>
<rect x="207" y="193" width="1" height="55" fill="#000"/>
<rect x="206" y="194" width="3" height="22" fill="#000"/>
<rect x="207" y="195" width="1" height="20" fill="#ff0000"/>
<rect x="211" y="199" width="1" height="19" fill="#000"/>
<rect x="210" y="205" width="3" height="11" fill="#000"/>
<rect x="211" y="206" width="1" height="9" fill="#008000"/>
<rect x="215" y="195" width="1" height="12" fill="#000"/>
<rect x="214" y="202" width="3" height="4" fill="#000"/>
<rect x="215" y="203" width="1" height="2" fill="#008000"/>
<rect x="219" y="201" width="1" height="20" fill="#000"/>
<rect x="218" y="202" width="3" height="10" fill="#000"/>
<rect x="219" y="203" width="1" height="8" fill="#ff0000"/>
<rect x="223" y="190" width="1" height="23" fill="#000"/>
<rect x="222" y="191" width="3" height="20" fill="#000"/>
<rect x="223" y="192" width="1" height="18" fill="#008000"/>
<rect x="227" y="165" width="1" height="34" fill="#000"/>
<rect x="226" y="185" width="3" height="7" fill="#000"/>
<rect x="227" y="186" width="1" height="5" fill="#008000"/>
<rect x="231" y="173" width="1" height="22" fill="#000"/>
<rect x="230" y="185" width="3" height="5" fill="#000"/>
<rect x="231" y="186" width="1" height="3" fill="#ff0000"/>
<rect x="235" y="181" width="1" height="11" fill="#000"/>
<rect x="234" y="185" width="3" height="5" fill="#000"/>
<rect x="235" y="186" width="1" height="3" fill="#008000"/>
<rect x="239" y="183" width="1" height="8" fill="#000"/>
<rect x="238" y="186" width="3" height="2" fill="#000"/>
<rect x="243" y="179" width="1" height="12" fill="#000"/>
<rect x="242" y="183" width="3" height="5" fill="#000"/>
<rect x="243" y="184" width="1" height="3" fill="#008000"/>
<rect x="247" y="179" width="1" height="15" fill="#000"/>
<rect x="246" y="183" width="3" height="11" fill="#000"/>
<rect x="247" y="184" width="1" height="9" fill="#ff0000"/>
<rect x="251" y="184" width="1" height="22" fill="#000"/>
<rect x="250" y="191" width="3" height="3" fill="#000"/>
<rect x="251" y="192" width="1" height="1" fill="#008000"/>
<rect x="255" y="176" width="1" height="17" fill="#000"/>
<rect x="254" y="182" width="3" height="10" fill="#000"/>
<rect x="255" y="183" width="1" height="8" fill="#008000"/>
<rect x="259" y="170" width="1" height="16" fill="#000"/>
<rect x="258" y="171" width="3" height="12" fill="#000"/>
<rect x="259" y="172" width="1" height="10" fill="#008000"/>
<rect x="263" y="170" width="1" height="10" fill="#000"/>
<rect x="262" y="171" width="3" height="8" fill="#000"/>
<rect x="263" y="172" width="1" height="6" fill="#ff0000"/>
<rect x="267" y="176" width="1" height="15" fill="#000"/>
<rect x="266" y="178" width="3" height="9" fill="#000"/>
<rect x="267" y="179" width="1" height="7" fill="#ff0000"/>
<rect x="271" y="181" width="1" height="13" fill="#000"/>
<rect x="270" y="186" width="3" height="3" fill="#000"/>
<rect x="271" y="187" width="1" height="1" fill="#ff0000"/>
<rect x="275" y="155" width="1" height="35" fill="#000"/>
<rect x="274" y="174" width="3" height="15" fill="#000"/>
<rect x="275" y="175" width="1" height="13" fill="#008000"/>
<rect x="279" y="166" width="1" height="36" fill="#000"/>
<rect x="278" y="174" width="3" height="27" fill="#000"/>
<rect x="279" y="175" width="1" height="25" fill="#ff0000"/>
<rect x="283" y="197" width="1" height="27" fill="#000"/>
<rect x="282" y="200" width="3" height="21" fill="#000"/>
<rect x="283" y="201" width="1" height="19" fill="#ff0000"/>
<rect x="287" y="217" width="1" height="11" fill="#000"/>
<rect x="286" y="220" width="3" height="6" fill="#000"/>
<rect x="287" y="221" width="1" height="4" fill="#ff0000"/>
<rect x="291" y="223" width="1" height="19" fill="#000"/>
<rect x="290" y="225" width="3" height="14" fill="#000"/>
<rect x="291" y="226" width="1" height="12" fill="#ff0000"/>
<rect x="295" y="223" width="1" height="17" fill="#000"/>
<rect x="294" y="224" width="3" height="15" fill="#000"/>
<rect x="295" y="225" width="1" height="13" fill="#008000"/>
<rect x="299" y="216" width="1" height="22" fill="#000"/>
<rect x="298" y="223" width="3" height="2" fill="#000"/>
<rect x="303" y="211" width="1" height="34" fill="#000"/>
<rect x="302" y="221" width="3" height="3" fill="#000"/>
<rect x="303" y="222" width="1" height="1" fill="#008000"/>
<rect x="307" y="199" width="1" height="26" fill="#000"/>
<rect x="306" y="202" width="3" height="20" fill="#000"/>
<rect x="307" y="203" width="1" height="18" fill="#008000"/>
<rect x="311" y="198" width="1" height="14" fill="#000"/>
<rect x="310" y="202" width="3" height="6" fill="#000"/>
<rect x="311" y="203" width="1" height="4" fill="#ff0000"/>
<rect x="315" y="203" width="1" height="17" fill="#000"/>
<rect x="314" y="207" width="3" height="5" fill="#000"/>
<rect x="315" y="208" width="1" height="3" fill="#ff0000"/>
<rect x="319" y="201" width="1" height="18" fill="#000"/>
<rect x="318" y="212" width="3" height="5" fill="#000"/>
<rect x="319" y="213" width="1" height="3" fill="#ff0000"/>
<rect x="323" y="202" width="1" height="28" fill="#000"/>
<rect x="322" y="215" width="3" height="3" fill="#000"/>
<rect x="323" y="216" width="1" height="1" fill="#008000"/>
<rect x="327" y="204" width="1" height="21" fill="#000"/>
<rect x="326" y="215" width="3" height="6" fill="#000"/>
<rect x="327" y="216" width="1" height="4" fill="#ff0000"/>
<rect x="331" y="217" width="1" height="15" fill="#000"/>
<rect x="330" y="221" width="3" height="9" fill="#000"/>
<rect x="331" y="222" width="1" height="7" fill="#ff0000"/>
<rect x="335" y="223" width="1" height="8" fill="#000"/>
<rect x="334" y="227" width="3" height="3" fill="#000"/>
<rect x="335" y="228" width="1" height="1" fill="#008000"/>
<rect x="339" y="216" width="1" height="12" fill="#000"/>
<rect x="338" y="217" width="3" height="11" fill="#000"/>
<rect x="339" y="218" width="1" height="9" fill="#008000"/>
<rect x="343" y="210" width="1" height="11" fill="#000"/>
<rect x="342" y="215" width="3" height="3" fill="#000"/>
<rect x="343" y="216" width="1" height="1" fill="#008000"/>
<rect x="347" y="213" width="1" height="16" fill="#000"/>
<rect x="346" y="215" width="3" height="10" fill="#000"/>
<rect x="347" y="216" width="1" height="8" fill="#ff0000"/>
<rect x="351" y="192" width="1" height="69" fill="#000"/>
<rect x="350" y="224" width="3" height="17" fill="#000"/>
<rect x="351" y="225" width="1" height="15" fill="#ff0000"/>
<rect x="355" y="228" width="1" height="16" fill="#000"/>
<rect x="354" y="234" width="3" height="7" fill="#000"/>
<rect x="355" y="235" width="1" height="5" fill="#008000"/>
<rect x="359" y="230" width="1" height="7" fill="#000"/>
<rect x="358" y="232" width="3" height="3" fill="#000"/>
<rect x="359" y="233" width="1" height="1" fill="#008000"/>
<rect x="363" y="230" width="1" height="7" fill="#000"/>
<rect x="362" y="232" width="3" height="1" fill="#000"/>
<rect x="367" y="229" width="1" height="14" fill="#000"/>
<rect x="366" y="232" width="3" height="1" fill="#000"/>
<rect x="371" y="229" width="1" height="15" fill="#000"/>
<rect x="370" y="233" width="3" height="5" fill="#000"/>
<rect x="371" y="234" width="1" height="3" fill="#ff0000"/>
<rect x="375" y="233" width="1" height="20" fill="#000"/>
<rect x="374" y="234" width="3" height="4" fill="#000"/>
<rect x="375" y="235" width="1" height="2" fill="#008000"/>
<rect x="379" y="218" width="1" height="21" fill="#000"/>
<rect x="378" y="233" width="3" height="3" fill="#000"/>
<rect x="379" y="234" width="1" height="1" fill="#ff0000"/>
<rect x="383" y="226" width="1" height="16" fill="#000"/>
<rect x="382" y="229" width="3" height="7" fill="#000"/>
<rect x="383" y="230" width="1" height="5" fill="#008000"/>
<rect x="387" y="223" width="1" height="8" fill="#000"/>
<rect x="386" y="227" width="3" height="3" fill="#000"/>
<rect x="387" y="228" width="1" height="1" fill="#008000"/>
<rect x="391" y="209" width="1" height="24" fill="#000"/>
<rect x="390" y="211" width="3" height="16" fill="#000"/>
<rect x="391" y="212" width="1" height="14" fill="#008000"/>
<rect x="395" y="211" width="1" height="9" fill="#000"/>
<rect x="394" y="211" width="3" height="1" fill="#000"/>
<rect x="399" y="189" width="1" height="23" fill="#000"/>
<rect x="398" y="208" width="3" height="4" fill="#000"/>
<rect x="399" y="209" width="1" height="2" fill="#008000"/>
<rect x="403" y="201" width="1" height="24" fill="#000"/>
<rect x="402" y="208" width="3" height="13" fill="#000"/>
<rect x="403" y="209" width="1" height="11" fill="#ff0000"/>
<rect x="407" y="208" width="1" height="19" fill="#000"/>
<rect x="406" y="220" width="3" height="3" fill="#000"/>
<rect x="407" y="221" width="1" height="1" fill="#ff0000"/>
<rect x="411" y="221" width="1" height="7" fill="#000"/>
<rect x="410" y="222" width="3" height="4" fill="#000"/>
<rect x="411" y="223" width="1" height="2" fill="#ff0000"/>
<rect x="415" y="222" width="1" height="9" fill="#000"/>
<rect x="414" y="224" width="3" height="2" fill="#000"/>
<rect x="419" y="221" width="1" height="9" fill="#000"/>
<rect x="418" y="225" width="3" height="4" fill="#000"/>
<rect x="419" y="226" width="1" height="2" fill="#ff0000"/>
<rect x="423" y="212" width="1" height="27" fill="#000"/>
<rect x="422" y="213" width="3" height="16" fill="#000"/>
<rect x="423" y="214" width="1" height="14" fill="#008000"/>
<rect x="427" y="193" width="1" height="32" fill="#000"/>
<rect x="426" y="203" width="3" height="11" fill="#000"/>
<rect x="427" y="204" width="1" height="9" fill="#008000"/>
<rect x="431" y="195" width="1" height="10" fill="#000"/>
<rect x="430" y="201" width="3" height="3" fill="#000"/>
<rect x="431" y="202" width="1" height="1" fill="#008000"/>
<rect x="435" y="199" width="1" height="13" fill="#000"/>
<rect x="434" y="201" width="3" height="5" fill="#000"/>
<rect x="435" y="202" width="1" height="3" fill="#ff0000"/>
<rect x="439" y="195" width="1" height="15" fill="#000"/>
<rect x="438" y="198" width="3" height="8" fill="#000"/>
<rect x="439" y="199" width="1" height="6" fill="#008000"/>
<rect x="443" y="187" width="1" height="17" fill="#000"/>
<rect x="442" y="198" width="3" height="4" fill="#000"/>
<rect x="443" y="199" width="1" height="2" fill="#ff0000"/>
<rect x="447" y="194" width="1" height="17" fill="#000"/>
<rect x="446" y="201" width="3" height="2" fill="#000"/>
<rect x="451" y="167" width="1" height="38" fill="#000"/>
<rect x="450" y="201" width="3" height="3" fill="#000"/>
<rect x="455" y="187" width="1" height="19" fill="#000"/>
<rect x="454" y="192" width="3" height="11" fill="#000"/>
<rect x="455" y="193" width="1" height="9" fill="#008000"/>
<rect x="459" y="190" width="1" height="10" fill="#000"/>
<rect x="458" y="192" width="3" height="6" fill="#000"/>
<rect x="459" y="193" width="1" height="4" fill="#ff0000"/>
<rect x="463" y="181" width="1" height="24" fill="#000"/>
<rect x="462" y="185" width="3" height="13" fill="#000"/>
<rect x="463" y="186" width="1" height="11" fill="#008000"/>
<rect x="467" y="182" width="1" height="15" fill="#000"/>
<rect x="466" y="185" width="3" height="6" fill="#000"/>
<rect x="467" y="186" width="1" height="4" fill="#ff0000"/>
<rect x="471" y="176" width="1" height="16" fill="#000"/>
<rect x="470" y="183" width="3" height="8" fill="#000"/>
<rect x="471" y="184" width="1" height="6" fill="#008000"/>
<rect x="475" y="181" width="1" height="44" fill="#000"/>
<rect x="474" y="184" width="3" height="38" fill="#000"/>
<rect x="475" y="185" width="1" height="36" fill="#ff0000"/>
<rect x="479" y="219" width="1" height="13" fill="#000"/>
<rect x="478" y="221" width="3" height="6" fill="#000"/>
<rect x="479" y="222" width="1" height="4" fill="#ff0000"/>
<rect x="483" y="219" width="1" height="8" fill="#000"/>
<rect x="482" y="221" width="3" height="6" fill="#000"/>
<rect x="483" y="222" width="1" height="4" fill="#008000"/>
<rect x="487" y="226" width="1" height="11" fill="#000"/>
<rect x="486" y="228" width="3" height="5" fill="#000"/>
<rect x="487" y="229" width="1" height="3" fill="#008000"/>
<rect x="491" y="220" width="1" height="12" fill="#000"/>
<rect x="490" y="225" width="3" height="4" fill="#000"/>
<rect x="491" y="226" width="1" height="2" fill="#008000"/>
<rect x="495" y="219" width="1" height="13" fill="#000"/>
<rect x="494" y="226" width="3" height="3" fill="#000"/>
<rect x="495" y="227" width="1" height="1" fill="#ff0000"/>
<rect x="499" y="225" width="1" height="15" fill="#000"/>
<rect x="498" y="228" width="3" height="5" fill="#000"/>
<rect x="499" y="229" width="1" height="3" fill="#ff0000"/>
<rect x="503" y="221" width="1" height="15" fill="#000"/>
<rect x="502" y="223" width="3" height="10" fill="#000"/>
<rect x="503" y="224" width="1" height="8" fill="#008000"/>
<rect x="507" y="213" width="1" height="14" fill="#000"/>
<rect x="506" y="221" width="3" height="4" fill="#000"/>
<rect x="507" y="222" width="1" height="2" fill="#008000"/>
<rect x="511" y="216" width="1" height="7" fill="#000"/>
<rect x="510" y="217" width="3" height="6" fill="#000"/>
<rect x="511" y="218" width="1" height="4" fill="#008000"/>
<rect x="515" y="215" width="1" height="11" fill="#000"/>
<rect x="514" y="218" width="3" height="3" fill="#000"/>
<rect x="519" y="215" width="1" height="10" fill="#000"/>
<rect x="518" y="219" width="3" height="5" fill="#000"/>
<rect x="519" y="220" width="1" height="3" fill="#ff0000"/>
<rect x="523" y="217" width="1" height="17" fill="#000"/>
<rect x="522" y="227" width="3" height="6" fill="#000"/>
<rect x="523" y="228" width="1" height="4" fill="#008000"/>
<rect x="527" y="226" width="1" height="31" fill="#000"/>
<rect x="526" y="227" width="3" height="28" fill="#000"/>
<rect x="527" y="228" width="1" height="26" fill="#ff0000"/>
<rect x="531" y="250" width="1" height="12" fill="#000"/>
<rect x="530" y="252" width="3" height="4" fill="#000"/>
<rect x="531" y="253" width="1" height="2" fill="#008000"/>
<rect x="535" y="248" width="1" height="7" fill="#000"/>
<rect x="534" y="250" width="3" height="4" fill="#000"/>
<rect x="535" y="251" width="1" height="2" fill="#008000"/>
<rect x="539" y="248" width="1" height="15" fill="#000"/>
<rect x="538" y="250" width="3" height="10" fill="#000"/>
<rect x="539" y="251" width="1" height="8" fill="#ff0000"/>
<rect x="543" y="248" width="1" height="22" fill="#000"/>
<rect x="542" y="258" width="3" height="11" fill="#000"/>
<rect x="543" y="259" width="1" height="9" fill="#ff0000"/>
<rect x="547" y="248" width="1" height="25" fill="#000"/>
<rect x="546" y="255" width="3" height="14" fill="#000"/>
<rect x="547" y="256" width="1" height="12" fill="#008000"/>
<rect x="551" y="243" width="1" height="23" fill="#000"/>
<rect x="550" y="255" width="3" height="2" fill="#000"/>
<rect x="555" y="254" width="1" height="8" fill="#000"/>
<rect x="554" y="256" width="3" height="3" fill="#000"/>
<rect x="555" y="257" width="1" height="1" fill="#ff0000"/>
<rect x="559" y="248" width="1" height="13" fill="#000"/>
<rect x="558" y="255" width="3" height="4" fill="#000"/>
<rect x="559" y="256" width="1" height="2" fill="#008000"/>
<rect x="563" y="245" width="1" height="12" fill="#000"/>
<rect x="562" y="248" width="3" height="8" fill="#000"/>
<rect x="563" y="249" width="1" height="6" fill="#008000"/>
<rect x="567" y="234" width="1" height="16" fill="#000"/>
<rect x="566" y="239" width="3" height="10" fill="#000"/>
<rect x="567" y="240" width="1" height="8" fill="#008000"/>
<rect x="571" y="237" width="1" height="23" fill="#000"/>
<rect x="570" y="239" width="3" height="14" fill="#000"/>
<rect x="571" y="240" width="1" height="12" fill="#ff0000"/>
<rect x="575" y="227" width="1" height="47" fill="#000"/>
<rect x="574" y="252" width="3" height="13" fill="#000"/>
<rect x="575" y="253" width="1" height="11" fill="#ff0000"/>
<rect x="579" y="249" width="1" height="17" fill="#000"/>
<rect x="578" y="253" width="3" height="12" fill="#000"/>
<rect x="579" y="254" width="1" height="10" fill="#008000"/>
<rect x="583" y="245" width="1" height="10" fill="#000"/>
<rect x="582" y="246" width="3" height="8" fill="#000"/>
<rect x="583" y="247" width="1" height="6" fill="#008000"/>
<rect x="587" y="242" width="1" height="9" fill="#000"/>
<rect x="586" y="246" width="3" height="2" fill="#000"/>
<rect x="591" y="243" width="1" height="8" fill="#000"/>
<rect x="590" y="244" width="3" height="5" fill="#000"/>
<rect x="591" y="245" width="1" height="3" fill="#008000"/>
<rect x="618" y="19" width="2" height="1" fill="#000"/>
<text x="623.5" y="23" fill="#000" stroke="#000" stroke-width="0.15" textLength="32.5" lengthAdjust="spacingAndGlyphs">1.14265</text>
<rect x="618" y="52" width="2" height="1" fill="#000"/>
<text x="623.5" y="56" fill="#000" stroke="#000" stroke-width="0.15" textLength="32.5" lengthAdjust="spacingAndGlyphs">1.13680</text>
<rect x="618" y="85" width="2" height="1" fill="#000"/>
<text x="623.5" y="89" fill="#000" stroke="#000" stroke-width="0.15" textLength="32.5" lengthAdjust="spacingAndGlyphs">1.13095</text>
<rect x="618" y="118" width="2" height="1" fill="#000"/>
<text x="623.5" y="122" fill="#000" stroke="#000" stroke-width="0.15" textLength="32.5" lengthAdjust="spacingAndGlyphs">1.12510</text>
<rect x="618" y="151" width="2" height="1" fill="#000"/>
<text x="623.5" y="155" fill="#000" stroke="#000" stroke-width="0.15" textLength="32.5" lengthAdjust="spacingAndGlyphs">1.11925</text>
<rect x="618" y="184" width="2" height="1" fill="#000"/>
<text x="623.5" y="188" fill="#000" stroke="#000" stroke-width="0.15" textLength="32.5" lengthAdjust="spacingAndGlyphs">1.11340</text>
<rect x="618" y="217" width="2" height="1" fill="#000"/>
<text x="623.5" y="221" fill="#000" stroke="#000" stroke-width="0.15" textLength="32.5" lengthAdjust="spacingAndGlyphs">1.10770</text>
<rect x="618" y="250" width="2" height="1" fill="#000"/>
<text x="623.5" y="254" fill="#000" stroke="#000" stroke-width="0.15" textLength="32.5" lengthAdjust="spacingAndGlyphs">1.10185</text>
<rect x="618" y="283" width="2" height="1" fill="#000"/>
<text x="623.5" y="287" fill="#000" stroke="#000" stroke-width="0.15" textLength="32.5" lengthAdjust="spacingAndGlyphs">1.09600</text>
<rect x="618" y="316" width="2" height="1" fill="#000"/>
<text x="623.5" y="320" fill="#000" stroke="#000" stroke-width="0.15" textLength="32.5" lengthAdjust="spacingAndGlyphs">1.09015</text>
<rect x="619" y="239" width="41" height="11" fill="#000"/>
<text x="623.5" y="248" fill="#fff" stroke="#fff" stroke-width="0.15" textLength="32.5" lengthAdjust="spacingAndGlyphs">1.10288</text>
<rect x="619" y="208" width="41" height="11" fill="#ff0000"/>
<text x="623.5" y="217" fill="#fff" stroke="#fff" stroke-width="0.15" textLength="32.5" lengthAdjust="spacingAndGlyphs">1.10820</text>
<rect x="619" y="223" width="41" height="11" fill="#ff0000"/>
<text x="623.5" y="232" fill="#fff" stroke="#fff" stroke-width="0.15" textLength="32.5" lengthAdjust="spacingAndGlyphs">1.10559</text>
<rect x="619" y="232" width="41" height="11" fill="#ff0000"/>
<text x="623.5" y="241" fill="#fff" stroke="#fff" stroke-width="0.15" textLength="32.5" lengthAdjust="spacingAndGlyphs">1.10386</text>
<rect x="619" y="255" width="41" height="11" fill="#008000"/>
<text x="623.5" y="264" fill="#fff" stroke="#fff" stroke-width="0.15" textLength="32.5" lengthAdjust="spacingAndGlyphs">1.09980</text>
<rect x="619" y="272" width="41" height="11" fill="#008000"/>
<text x="623.5" y="281" fill="#fff" stroke="#fff" stroke-width="0.15" textLength="32.5" lengthAdjust="spacingAndGlyphs">1.09689</text>
<rect x="618" y="323" width="2" height="1" fill="#000"/>
<rect x="618" y="344" width="2" height="1" fill="#000"/>
<rect x="618" y="373" width="2" height="1" fill="#000"/>
<rect x="618" y="394" width="2" height="1" fill="#000"/>
<text x="621.5" y="332" fill="#000" stroke="#000" stroke-width="0.15" textLength="14" lengthAdjust="spacingAndGlyphs">100</text>
<text x="621" y="348" fill="#000" stroke="#000" stroke-width="0.15" textLength="9.5" lengthAdjust="spacingAndGlyphs">70</text>
<text x="621" y="377" fill="#000" stroke="#000" stroke-width="0.15" textLength="9.5" lengthAdjust="spacingAndGlyphs">30</text>
<text x="621.5" y="392" fill="#000" stroke="#000" stroke-width="0.15" textLength="4.5" lengthAdjust="spacingAndGlyphs">0</text>
<rect x="618" y="399" width="2" height="1" fill="#000"/>
<rect x="618" y="412" width="2" height="1" fill="#000"/>
<rect x="618" y="454" width="2" height="1" fill="#000"/>
<rect x="618" y="468" width="2" height="1" fill="#000"/>
<text x="621.5" y="408" fill="#000" stroke="#000" stroke-width="0.15" textLength="14" lengthAdjust="spacingAndGlyphs">100</text>
<text x="621" y="416" fill="#000" stroke="#000" stroke-width="0.15" textLength="9.5" lengthAdjust="spacingAndGlyphs">80</text>
<text x="621" y="458" fill="#000" stroke="#000" stroke-width="0.15" textLength="9.5" lengthAdjust="spacingAndGlyphs">20</text>
<text x="621.5" y="466" fill="#000" stroke="#000" stroke-width="0.15" textLength="4.5" lengthAdjust="spacingAndGlyphs">0</text>
<rect x="618" y="473" width="2" height="1" fill="#000"/>
<rect x="618" y="488" width="2" height="1" fill="#000"/>
<rect x="618" y="538" width="2" height="1" fill="#000"/>
<text x="621.5" y="482" fill="#000" stroke="#000" stroke-width="0.15" textLength="37.5" lengthAdjust="spacingAndGlyphs">0.002631</text>
<text x="621.5" y="492" fill="#000" stroke="#000" stroke-width="0.15" textLength="17.5" lengthAdjust="spacingAndGlyphs">0.00</text>
<text x="621" y="536" fill="#000" stroke="#000" stroke-width="0.15" textLength="41" lengthAdjust="spacingAndGlyphs">-0.008236</text>
<path d="M6 10h7l-3.5 4z" fill="#000" shape-rendering="crispEdges"/>
<text x="18.5" y="14" fill="#000" stroke="#000" stroke-width="0.15" textLength="53" lengthAdjust="spacingAndGlyphs">EURUSD,H4</text>
<text x="78.3" y="14" fill="#000" stroke="#000" stroke-width="0.15" textLength="32.3" lengthAdjust="spacingAndGlyphs">1.10225</text>
<text x="114.4" y="14" fill="#000" stroke="#000" stroke-width="0.15" textLength="32.3" lengthAdjust="spacingAndGlyphs">1.10298</text>
<text x="150.5" y="14" fill="#000" stroke="#000" stroke-width="0.15" textLength="32.3" lengthAdjust="spacingAndGlyphs">1.10187</text>
<text x="186.6" y="14" fill="#000" stroke="#000" stroke-width="0.15" textLength="32.3" lengthAdjust="spacingAndGlyphs">1.10288</text>
<text x="7.5" y="334" fill="#000" stroke="#000" stroke-width="0.15" textLength="31.5" lengthAdjust="spacingAndGlyphs">RSI(14)</text>
<text x="42.5" y="334" fill="#000" stroke="#000" stroke-width="0.15" textLength="31.5" lengthAdjust="spacingAndGlyphs">48.7425</text>
<text x="82" y="334" fill="#000" stroke="#000" stroke-width="0.15" textLength="40" lengthAdjust="spacingAndGlyphs">-&gt;MA(18)</text>
<text x="125.5" y="334" fill="#000" stroke="#000" stroke-width="0.15" textLength="32" lengthAdjust="spacingAndGlyphs">42.8347</text>
<text x="7.5" y="410" fill="#000" stroke="#000" stroke-width="0.15" textLength="48" lengthAdjust="spacingAndGlyphs">Stoch(5,3,3)</text>
<text x="60" y="410" fill="#000" stroke="#000" stroke-width="0.15" textLength="32" lengthAdjust="spacingAndGlyphs">58.4577</text>
<text x="96" y="410" fill="#000" stroke="#000" stroke-width="0.15" textLength="32.5" lengthAdjust="spacingAndGlyphs">50.1797</text>
<text x="7.5" y="484" fill="#000" stroke="#000" stroke-width="0.15" textLength="65" lengthAdjust="spacingAndGlyphs">MACD(12,26,9)</text>
<text x="76.5" y="484" fill="#000" stroke="#000" stroke-width="0.15" textLength="39.5" lengthAdjust="spacingAndGlyphs">-0.001123</text>
<text x="120.5" y="484" fill="#000" stroke="#000" stroke-width="0.15" textLength="40" lengthAdjust="spacingAndGlyphs">-0.001608</text>
<rect x="2" y="540" width="1" height="3" fill="#000"/>
<text x="3" y="552" fill="#000" stroke="#000" stroke-width="0.15" textLength="49" lengthAdjust="spacingAndGlyphs">20 Jun 2016</text>
<rect x="67" y="540" width="1" height="3" fill="#000"/>
<text x="66.5" y="552" fill="#000" stroke="#000" stroke-width="0.15" textLength="52.5" lengthAdjust="spacingAndGlyphs">23 Jun 00:00</text>
<rect x="131" y="540" width="1" height="3" fill="#000"/>
<text x="130.5" y="552" fill="#000" stroke="#000" stroke-width="0.15" textLength="52.5" lengthAdjust="spacingAndGlyphs">27 Jun 12:00</text>
<rect x="195" y="540" width="1" height="3" fill="#000"/>
<text x="194.5" y="552" fill="#000" stroke="#000" stroke-width="0.15" textLength="52.5" lengthAdjust="spacingAndGlyphs">30 Jun 04:00</text>
<rect x="259" y="540" width="1" height="3" fill="#000"/>
<text x="258.5" y="552" fill="#000" stroke="#000" stroke-width="0.15" textLength="45" lengthAdjust="spacingAndGlyphs">4 Jul 16:00</text>
<rect x="323" y="540" width="1" height="3" fill="#000"/>
<text x="322.5" y="552" fill="#000" stroke="#000" stroke-width="0.15" textLength="44.5" lengthAdjust="spacingAndGlyphs">7 Jul 08:00</text>
<rect x="387" y="540" width="1" height="3" fill="#000"/>
<text x="386.5" y="552" fill="#000" stroke="#000" stroke-width="0.15" textLength="49" lengthAdjust="spacingAndGlyphs">11 Jul 20:00</text>
<rect x="451" y="540" width="1" height="3" fill="#000"/>
<text x="450.5" y="552" fill="#000" stroke="#000" stroke-width="0.15" textLength="49.5" lengthAdjust="spacingAndGlyphs">14 Jul 12:00</text>
<rect x="515" y="540" width="1" height="3" fill="#000"/>
<text x="514.5" y="552" fill="#000" stroke="#000" stroke-width="0.15" textLength="49.5" lengthAdjust="spacingAndGlyphs">19 Jul 00:00</text>
<rect x="579" y="540" width="1" height="3" fill="#000"/>
<text x="578.5" y="552" fill="#000" stroke="#000" stroke-width="0.15" textLength="49.5" lengthAdjust="spacingAndGlyphs">21 Jul 16:00</text>
</svg>
</body></html>
